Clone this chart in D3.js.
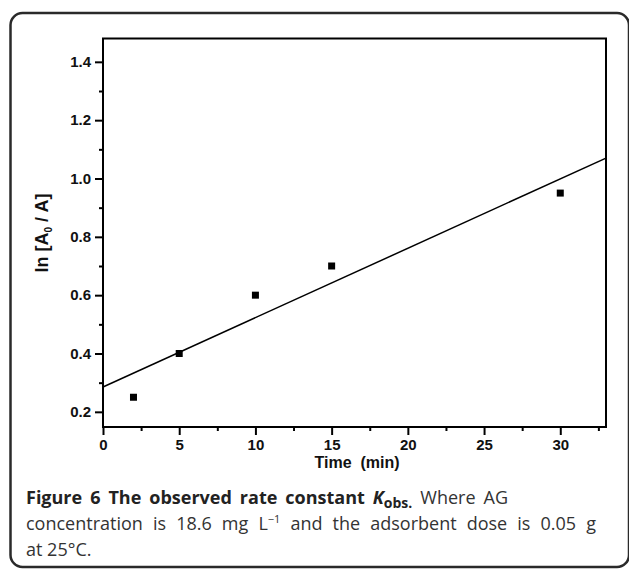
<!DOCTYPE html>
<html>
<head>
<meta charset="utf-8">
<script src="https://cdn.jsdelivr.net/npm/d3@7"></script>
<style>
  html, body { margin: 0; padding: 0; background: #fff; }
  svg text { fill: #111; }
  .tick text { font-family: "Liberation Sans", Arial, sans-serif; font-weight: bold; font-size: 15px; }
  .caption { font-family: "Open Sans", sans-serif; font-size: 18px; fill: #333; }
</style>
</head>
<body>
<div id="container"></div>
<script>
// data
const times = [2, 5, 10, 15, 30];
const lnRatio = [0.25, 0.40, 0.60, 0.70, 0.95];
const xTicks = [0, 5, 10, 15, 20, 25, 30];
const yTicks = [0.2, 0.4, 0.6, 0.8, 1.0, 1.2, 1.4];

const w = 629;
const h = 569;

const svg = d3.select('#container')
  .append('svg')
  .attr('width', w)
  .attr('height', h);

// card border
svg.append('rect')
  .attr('x', 10.5)
  .attr('y', 13)
  .attr('width', 618.5)
  .attr('height', 554)
  .attr('rx', 12)
  .attr('fill', 'none')
  .attr('stroke', '#2a2a2a')
  .attr('stroke-width', 2.5);

const x = d3.scaleLinear().domain([0, 33]).range([103, 606]);
const y = d3.scaleLinear().domain([0.148, 1.48]).range([427, 38.5]);

// frame
svg.append('rect')
  .attr('x', x(0))
  .attr('y', y(1.48))
  .attr('width', x(33) - x(0))
  .attr('height', y(0.148) - y(1.48))
  .attr('fill', 'none')
  .attr('stroke', '#000')
  .attr('stroke-width', 2);

// x axis
const gx = svg.append('g').attr('transform', `translate(0,${y(0.148)})`);
gx.call(d3.axisBottom(x).tickValues(xTicks).tickSize(8).tickSizeOuter(0).tickPadding(4).tickFormat(d3.format('d')));
gx.append('g').call(d3.axisBottom(x).tickValues(d3.range(2.5, 33, 5)).tickSize(4).tickSizeOuter(0).tickFormat(''));
gx.selectAll('.domain').remove();
gx.selectAll('line').attr('stroke', '#000').attr('stroke-width', 2);

// y axis
const gy = svg.append('g').attr('transform', `translate(${x(0)},0)`);
gy.call(d3.axisLeft(y).tickValues(yTicks).tickSize(8).tickSizeOuter(0).tickPadding(4).tickFormat(d3.format('.1f')));
gy.append('g').call(d3.axisLeft(y).tickValues(d3.range(0.3, 1.4, 0.2)).tickSize(4).tickSizeOuter(0).tickFormat(''));
gy.selectAll('.domain').remove();
gy.selectAll('line').attr('stroke', '#000').attr('stroke-width', 2);

// linear fit through the points
const mx = d3.mean(times);
const my = d3.mean(lnRatio);
const slope = d3.sum(times, (t, i) => (t - mx) * (lnRatio[i] - my)) / d3.sum(times, t => (t - mx) * (t - mx));
const icpt = my - slope * mx;

svg.append('line')
  .attr('x1', x(0))
  .attr('y1', y(icpt))
  .attr('x2', x(33))
  .attr('y2', y(icpt + slope * 33))
  .attr('stroke', '#000')
  .attr('stroke-width', 1.5);

svg.append('g')
  .selectAll('rect')
  .data(times)
  .enter()
  .append('rect')
  .attr('x', (d) => x(d) - 3.5)
  .attr('y', (d, i) => y(lnRatio[i]) - 3.5)
  .attr('width', 7)
  .attr('height', 7)
  .attr('fill', '#000');

// axis titles
svg.append('text')
  .attr('x', 357)
  .attr('y', 468)
  .attr('text-anchor', 'middle')
  .style('font-family', '"Liberation Sans", Arial, sans-serif')
  .style('font-weight', 'bold')
  .style('font-size', '16px')
  .attr('xml:space', 'preserve')
  .text('Time  (min)');

const yt = svg.append('text')
  .attr('transform', 'translate(48,233) rotate(-90)')
  .attr('text-anchor', 'middle')
  .style('font-family', '"Liberation Sans", Arial, sans-serif')
  .style('font-weight', 'bold')
  .style('font-size', '18px');
yt.append('tspan').text('ln [A');
yt.append('tspan').attr('dy', 4).style('font-size', '10px').text('0');
yt.append('tspan').attr('dy', -4).text(' / A]');

// caption
const cx = 26;
const cap = svg.append('g').attr('class', 'caption');
const l1 = cap.append('text').attr('x', cx).attr('y', 504).attr('class', 'caption');
l1.append('tspan').style('font-weight', 'bold').style('fill', '#222').text('Figure 6 The observed rate constant ');
l1.append('tspan').style('font-weight', 'bold').style('font-style', 'italic').style('fill', '#222').text('K');
l1.append('tspan').attr('dy', 4).style('font-weight', 'bold').style('font-size', '14px').style('fill', '#222').text('obs.');
l1.append('tspan').attr('dy', -4).text(' Where AG');

const l2 = cap.append('text').attr('x', cx).attr('y', 530).attr('class', 'caption');
l2.append('tspan').text('concentration is 18.6 mg L');
l2.append('tspan').attr('dy', -7).style('font-size', '11px').text('\u22121');
l2.append('tspan').attr('dy', 7).text(' and the adsorbent dose is 0.05 g');

cap.append('text').attr('x', cx).attr('y', 556).attr('class', 'caption').text('at 25\u00b0C.');

// spread words on the first two lines like the justified original
[[l1, 508], [l2, 596]].forEach(([t, right]) => {
  const natural = t.node().getComputedTextLength();
  const spaces = (t.text().match(/ /g) || []).length;
  t.style('word-spacing', `${(right - cx - natural) / spaces}px`);
});
</script>
</body>
</html>
